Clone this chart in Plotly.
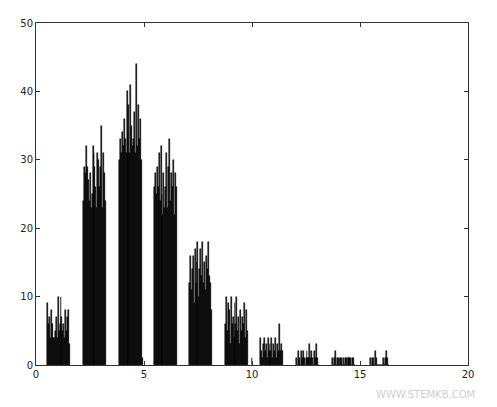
import numpy as np
import plotly.graph_objects as go

# cluster start positions and bar heights
starts = [0.52, 2.18, 3.84, 5.46, 7.08, 8.75, 10.37, 12.04, 13.7, 15.46]
c1 = [9, 6, 7, 4, 8, 6, 4, 4, 5, 7, 4, 10, 5, 6, 10, 7, 5, 6, 4, 8, 5, 7, 8, 3]
c2 = [24, 29, 28, 32, 29, 27, 24, 28, 23, 25, 32, 31, 29, 26, 23, 31, 30, 26, 29, 35, 23, 31, 28, 24]
c3 = [30, 33, 31, 34, 32, 36, 33, 31, 40, 34, 38, 31, 41, 35, 32, 33, 37, 31, 44, 32, 38, 33, 36, 30]
c4 = [26, 28, 25, 29, 26, 31, 24, 32, 25, 22, 28, 23, 26, 31, 23, 29, 33, 24, 28, 26, 30, 22, 28, 26]
c5 = [12, 16, 11, 14, 16, 9, 17, 12, 15, 18, 10, 14, 17, 13, 18, 12, 15, 11, 16, 14, 18, 13, 12, 8]
c6 = [6, 10, 5, 9, 8, 3, 10, 6, 7, 4, 9, 6, 10, 5, 7, 3, 8, 5, 7, 6, 9, 4, 8, 5]
c7 = [4, 2, 1, 3, 4, 2, 3, 1, 4, 2, 3, 2, 4, 1, 3, 2, 4, 1, 3, 2, 6, 2, 3, 2]
c8 = [1, 0, 2, 1, 0, 2, 1, 2, 1, 0, 1, 2, 1, 1, 3, 1, 2, 1, 0, 2, 1, 3, 1, 0]
c9 = [1, 0, 1, 2, 0, 1, 1, 0, 1, 1, 1, 0, 1, 0, 1, 1, 0, 1, 1, 1, 0, 1, 1, 0]
c10 = [1, 0, 1, 1, 0, 2, 1, 0, 0, 0, 0, 0, 0, 0, 1, 0, 1, 2, 1, 0]
clusters = [c1, c2, c3, c4, c5, c6, c7, c8, c9, c10]
stray_x = [4.95, 10.0, 14.45]
stray_y = [1, 1, 1]

w = 0.044
xs, ys = [], []
for s, c in zip(starts, clusters):
    for i, h in enumerate(c):
        xs.append(s + i * w + w / 2)
        ys.append(h)
xs += stray_x
ys += stray_y

fig = go.Figure(go.Bar(x=xs, y=ys, width=w, marker=dict(color="black", line=dict(width=0.5, color="black"))))

ax = dict(showline=True, linecolor="#333", linewidth=1, mirror="ticks", ticks="inside",
          ticklen=4, tickcolor="#333", showgrid=False, zeroline=False, automargin=False,
          tickfont=dict(family="DejaVu Sans", size=10, color="#222"))
fig.update_xaxes(range=[0, 20], tickvals=[0, 5, 10, 15, 20], **ax)
fig.update_yaxes(range=[0, 50], tickvals=[0, 10, 20, 30, 40, 50], **ax)
fig.update_layout(width=497, height=407, margin=dict(l=28, r=37, t=15, b=50),
                  plot_bgcolor="white", paper_bgcolor="white", bargap=0, showlegend=False)
fig.add_annotation(text="WWW.STEMKB.COM", xref="paper", yref="paper", x=1.02, y=-0.085,
                   xanchor="right", yanchor="middle", showarrow=False,
                   font=dict(family="DejaVu Sans", size=10, color="#d0d0d0"))
fig.write_html("out.html")
